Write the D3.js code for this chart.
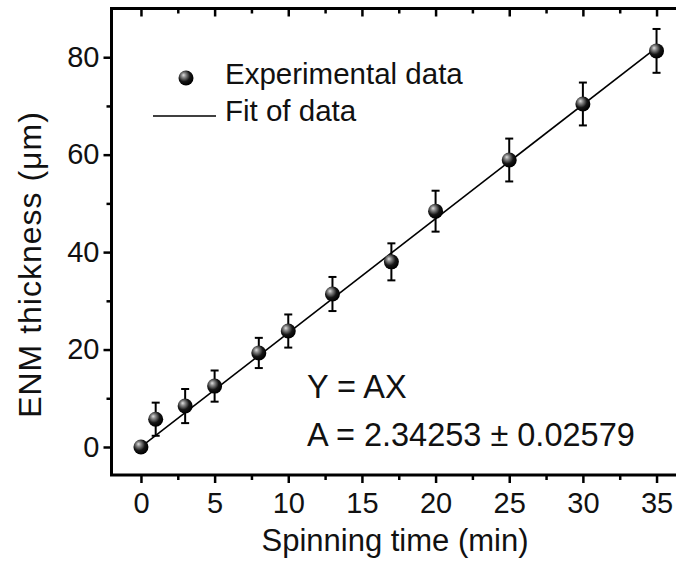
<!DOCTYPE html>
<html>
<head>
<meta charset="utf-8">
<script src="https://cdn.jsdelivr.net/npm/d3@7"></script>
<style>
  html, body { margin: 0; padding: 0; background: #fff; }
  svg { display: block; font-family: "Liberation Sans", Arial, sans-serif; }
</style>
</head>
<body>
<svg id="chart" width="676" height="563"></svg>
<script>
// Spinning time (min)
const times = [0, 1, 3, 5, 8, 10, 13, 17, 20, 25, 30, 35];
// Measured ENM thickness (µm)
const thickness = [0, 5.7, 8.4, 12.5, 19.3, 23.8, 31.4, 38.0, 48.4, 58.9, 70.4, 81.3];
// Standard deviation of thickness (µm)
const errors = [0, 3.4, 3.5, 3.2, 3.1, 3.4, 3.5, 3.8, 4.2, 4.4, 4.4, 4.5];
// Linear fit through the origin, Y = A·X
const slopeA = 2.34253;
const slopeErr = 0.02579;
const fitX = [0, 35];

const xTicks = [0, 5, 10, 15, 20, 25, 30, 35];
const yTicks = [0, 20, 40, 60, 80];
const xMinor = [2.5, 7.5, 12.5, 17.5, 22.5, 27.5, 32.5];
const yMinor = [10, 30, 50, 70];

const svg = d3.select("#chart");
const plotL = 111.5, plotR = 686, plotT = 8.5, plotB = 475;

const x = d3.scaleLinear().domain([-2, 37]).range([plotL, plotR]);
const y = d3.scaleLinear().domain([-5.75, 90]).range([plotB, plotT]);

// Grey-highlighted sphere marker
const defs = svg.append("defs");
const grad = defs.append("radialGradient").attr("id", "ball")
  .attr("cx", "40%").attr("cy", "38%").attr("r", "60%").attr("fx", "33%").attr("fy", "30%");
grad.append("stop").attr("offset", "0%").attr("stop-color", "#e0e0e0");
grad.append("stop").attr("offset", "25%").attr("stop-color", "#8a8a8a");
grad.append("stop").attr("offset", "65%").attr("stop-color", "#161616");
grad.append("stop").attr("offset", "100%").attr("stop-color", "#000");

const fontTick = 29;
const fontFam = "Liberation Sans, Arial, sans-serif";

function tickGroup(axis, tx, ty) {
  const g = svg.append("g").attr("transform", `translate(${tx},${ty})`).call(axis);
  g.select(".domain").remove();
  g.selectAll("line").attr("stroke-width", 2.5);
  g.selectAll("text").attr("font-size", fontTick).attr("fill", "#111").attr("font-family", fontFam);
  return g;
}

// Bottom axis: major and minor ticks, outward
tickGroup(d3.axisBottom(x).tickValues(xTicks).tickSize(8).tickPadding(9).tickFormat(d3.format("d")), 0, plotB);
tickGroup(d3.axisBottom(x).tickValues(xMinor).tickSize(5).tickFormat(""), 0, plotB);
// Top axis: ticks pointing inward, no labels
tickGroup(d3.axisBottom(x).tickValues(xTicks).tickSize(8).tickFormat(""), 0, plotT);
tickGroup(d3.axisBottom(x).tickValues(xMinor).tickSize(5).tickFormat(""), 0, plotT);
// Left axis
tickGroup(d3.axisLeft(y).tickValues(yTicks).tickSize(8).tickPadding(4).tickFormat(d3.format("d")), plotL, 0);
tickGroup(d3.axisLeft(y).tickValues(yMinor).tickSize(5).tickFormat(""), plotL, 0);

// Frame
svg.append("rect").attr("x", plotL).attr("y", plotT)
  .attr("width", plotR - plotL).attr("height", plotB - plotT)
  .attr("fill", "none").attr("stroke", "#000").attr("stroke-width", 3);

// Fit line
svg.append("path")
  .datum(fitX)
  .attr("fill", "none").attr("stroke", "#000").attr("stroke-width", 1.6)
  .attr("d", d3.line().x(d => x(d)).y(d => y(slopeA * d)));

const pts = times.map((t, i) => ({ t, v: thickness[i], e: errors[i] }));

// Error bars
const eb = svg.append("g").attr("stroke", "#000").attr("stroke-width", 2);
pts.filter(d => d.e > 0).forEach(d => {
  eb.append("line").attr("x1", x(d.t)).attr("x2", x(d.t)).attr("y1", y(d.v - d.e)).attr("y2", y(d.v + d.e));
  eb.append("line").attr("x1", x(d.t) - 4).attr("x2", x(d.t) + 4).attr("y1", y(d.v - d.e)).attr("y2", y(d.v - d.e));
  eb.append("line").attr("x1", x(d.t) - 4).attr("x2", x(d.t) + 4).attr("y1", y(d.v + d.e)).attr("y2", y(d.v + d.e));
});

// Data markers
svg.append("g").selectAll("circle").data(pts).join("circle")
  .attr("cx", d => x(d.t)).attr("cy", d => y(d.v)).attr("r", 7.5)
  .attr("fill", "url(#ball)");

// Legend
svg.append("circle").attr("cx", 186).attr("cy", 78).attr("r", 7.5).attr("fill", "url(#ball)");
svg.append("text").attr("x", 225).attr("y", 84).attr("font-size", 29.5).attr("fill", "#111").text("Experimental data");
svg.append("line").attr("x1", 153).attr("x2", 216).attr("y1", 116).attr("y2", 116)
  .attr("stroke", "#000").attr("stroke-width", 1.6);
svg.append("text").attr("x", 225).attr("y", 121).attr("font-size", 29.5).attr("fill", "#111").text("Fit of data");

// Fit annotation
svg.append("text").attr("x", 307).attr("y", 398).attr("font-size", 32.5).attr("fill", "#111").text("Y = AX");
svg.append("text").attr("x", 307).attr("y", 446).attr("font-size", 32.5).attr("fill", "#111")
  .text(`A = ${slopeA} ± ${slopeErr}`);

// Axis titles
svg.append("text").attr("x", 395).attr("y", 551).attr("text-anchor", "middle")
  .attr("font-size", 31).attr("fill", "#111").text("Spinning time (min)");
svg.append("text").attr("transform", "translate(41,264.5) rotate(-90)").attr("text-anchor", "middle")
  .attr("font-size", 32).attr("letter-spacing", 1).attr("fill", "#111").text("ENM thickness (μm)");
</script>
</body>
</html>
